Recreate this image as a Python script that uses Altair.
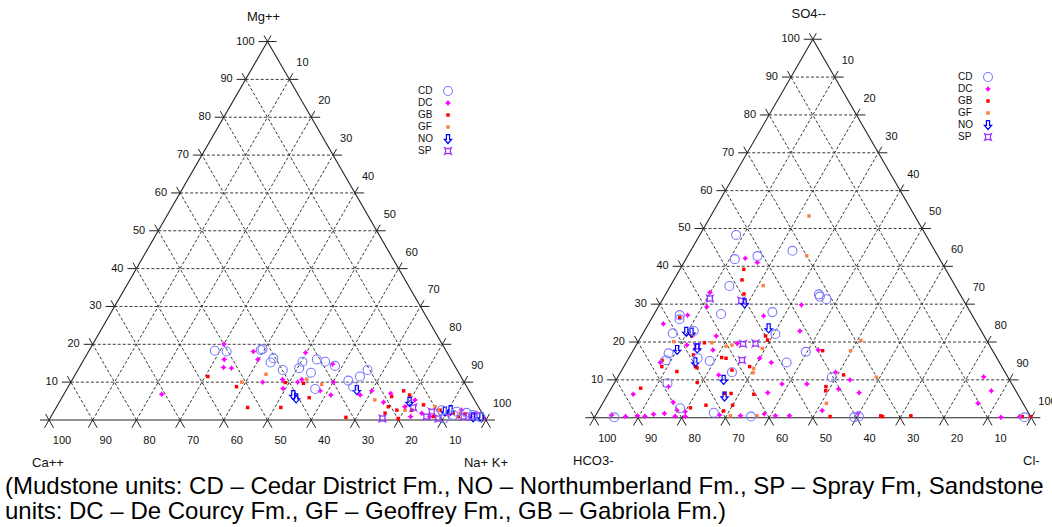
import math
import altair as alt
import pandas as pd

# ---------------- values (ternary percentages) ----------------
# Cation diagram: apex Mg++, right corner Na+ K+, left corner Ca++ (= 100 - Mg - NaK)
CAT_CD_MG = [18.3, 18.1, 18.5, 18.7, 16.3, 15.2, 13.2, 15.4, 13.7, 12.5, 16.0, 15.4, 14.3, 8.2, 10.4, 11.5, 13.2, 8.8, 2.6, 2.2, 1.9, 1.3, 0.7, 0.4, 1.3]
CAT_CD_NAK = [28.8, 31.6, 39.2, 39.5, 43.2, 43.1, 46.9, 50.3, 50.4, 53.7, 53.3, 55.5, 58.3, 56.8, 63.3, 65.4, 66.3, 65.2, 88.6, 92.2, 94.6, 96.4, 98.4, 90.2, 91.9]

CAT_DC_MG = [20.1, 16.0, 13.9, 13.7, 6.8, 18.1, 16.0, 10.0, 10.7, 10.0, 10.7, 17.8, 7.7, 6.6, 14.8, 10.0, 6.6, 7.7, 4.7, 7.0, 3.5, 0.9, 5.3, 1.8, 0.9, 1.3, 2.6, 0.9, 1.8, 8.3]
CAT_DC_NAK = [30.0, 32.1, 33.0, 34.9, 22.4, 37.7, 39.8, 43.9, 48.1, 51.9, 52.5, 49.8, 58.2, 61.2, 57.5, 60.1, 67.9, 70.0, 74.2, 74.7, 79.7, 82.3, 81.1, 84.4, 86.7, 90.8, 93.1, 95.9, 97.0, 49.4]

CAT_GB_MG = [11.5, 8.8, 3.3, 3.3, 9.9, 9.7, 5.9, 0.7, 1.8, 6.2, 3.5, 2.6, 0.4, 7.7, 6.6, 2.6, 4.0, 0.9, 1.8, 0.9, 1.6, 0.4, 2.6]
CAT_GB_NAK = [30.6, 38.5, 43.8, 51.4, 49.1, 53.4, 56.6, 67.6, 76.0, 75.3, 75.9, 78.3, 79.7, 77.3, 79.2, 81.7, 83.7, 87.5, 91.6, 93.2, 94.4, 99.4, 88.2]

CAT_GF_MG = [10.0, 12.1, 10.8, 9.4, 5.3, 2.6, 3.5, 1.8, 2.5]
CAT_GF_NAK = [39.1, 43.6, 53.6, 57.7, 71.9, 80.2, 86.6, 93.2, 87.8]

CAT_NO_MG = [6.6, 5.7, 7.9, 4.8, 2.2, 2.6, 0.7, 0.7]
CAT_NO_NAK = [52.6, 53.7, 66.5, 80.1, 89.5, 90.6, 96.7, 98.6]

CAT_SP_MG = [0.4, 3.3, 2.2, 0.9, 0.4, 0.9, 0.9]
CAT_SP_NAK = [76.1, 81.7, 86.5, 85.9, 88.9, 96.3, 94.4]

# Anion diagram: apex SO4--, right corner Cl-, left corner HCO3- (= 100 - SO4 - Cl)
AN_CD_SO4 = [48.3, 41.9, 42.7, 44.1, 34.8, 32.6, 32.0, 31.3, 27.1, 26.0, 27.4, 27.9, 22.3, 22.9, 22.1, 17.4, 14.6, 17.0, 15.2, 15.7, 15.0, 12.0, 9.1, 10.7, 2.5, 1.3, 0.1, 0.3, 0.1, 0.3, 0.1]
AN_CD_CL = [8.3, 11.2, 16.0, 23.3, 13.5, 35.1, 35.6, 37.5, 6.0, 6.5, 15.3, 26.8, 6.8, 11.3, 30.4, 39.7, 36.7, 8.5, 8.8, 15.8, 18.9, 25.5, 12.2, 49.0, 18.4, 26.7, 4.5, 35.7, 59.4, 60.4, 98.4]

AN_DC_SO4 = [42.1, 41.0, 33.1, 29.3, 27.1, 24.8, 29.8, 26.9, 22.9, 21.6, 19.2, 17.9, 19.6, 15.7, 14.6, 17.9, 14.6, 11.3, 8.2, 6.2, 4.1, 6.6, 8.9, 8.9, 12.0, 7.6, 10.0, 6.6, 1.9, 10.8, 7.1, 3.8, 0.1, 0.3, 0.7, 0.3, 0.5, 0.4, 0.9, 1.1, 0.4, 0.3, 0.7, 0.5, 1.0, 0.5, 0.5, 1.1, 2.0, 1.6]
AN_DC_CL = [13.5, 16.8, 9.9, 11.1, 7.8, 3.4, 32.5, 25.3, 35.6, 17.1, 11.6, 18.2, 22.9, 30.0, 33.2, 42.3, 7.8, 22.8, 12.9, 5.8, 16.0, 36.4, 38.5, 44.2, 49.2, 52.1, 53.5, 57.3, 51.2, 83.7, 87.3, 85.9, 93.0, 97.2, 3.6, 7.0, 9.6, 11.4, 13.1, 15.5, 18.3, 20.7, 28.3, 33.2, 38.4, 41.2, 44.4, 59.7, 17.9, 20.0]

AN_GB_SO4 = [39.2, 36.4, 32.7, 26.5, 21.6, 19.8, 21.6, 20.5, 16.6, 13.5, 13.2, 12.2, 15.2, 13.5, 15.9, 15.7, 12.6, 13.5, 9.3, 6.4, 6.4, 6.2, 3.3, 3.3, 2.6, 7.8, 17.7, 8.2, 7.1, 11.3, 0.3, 0.5, 0.3, 0.5, 0.3, 0.3, 1.8]
AN_GB_CL = [14.6, 15.6, 17.9, 6.3, 11.5, 15.3, 28.4, 29.4, 14.4, 16.4, 16.9, 12.8, 7.9, 8.7, 21.2, 22.3, 25.2, 28.8, 18.9, 26.6, 28.1, 33.4, 23.9, 30.0, 20.7, 6.7, 43.4, 48.9, 49.4, 51.4, 53.8, 65.3, 65.8, 72.2, 97.8, 99.7, 28.7]

AN_GF_SO4 = [53.3, 42.8, 34.9, 20.1, 19.8, 18.9, 19.2, 18.3, 13.0, 11.9, 21.9, 20.4, 17.7, 10.7, 3.8, 0.5, 0.5]
AN_GF_CL = [22.5, 27.2, 21.2, 8.1, 17.0, 20.7, 21.9, 29.3, 30.0, 30.4, 11.7, 50.8, 49.8, 59.2, 51.2, 30.9, 37.0]

AN_NO_SO4 = [30.2, 22.7, 22.5, 17.9, 18.3, 14.6, 23.6, 10.0, 5.6]
AN_NO_CL = [19.3, 9.7, 11.0, 10.0, 14.4, 15.8, 28.1, 24.6, 27.0]

AN_SP_SO4 = [31.5, 30.9, 18.8, 19.5, 19.6, 15.2]
AN_SP_CL = [10.7, 18.2, 14.1, 24.3, 27.1, 26.2]

TICKS = [0, 10, 20, 30, 40, 50, 60, 70, 80, 90, 100]
SERIES = ["CD", "DC", "GB", "GF", "NO", "SP"]
CAT_TITLES = ["Mg++", "Ca++", "Na+ K+"]
AN_TITLES = ["SO4--", "HCO3-", "Cl-"]
CAPTION = [
    "(Mudstone units: CD \u2013 Cedar District Fm., NO \u2013 Northumberland Fm., SP \u2013 Spray Fm, Sandstone",
    "units: DC \u2013 De Courcy Fm., GF \u2013 Geoffrey Fm., GB \u2013 Gabriola Fm.)",
]

CAT = {
    "CD": (CAT_CD_MG, CAT_CD_NAK), "DC": (CAT_DC_MG, CAT_DC_NAK), "GB": (CAT_GB_MG, CAT_GB_NAK),
    "GF": (CAT_GF_MG, CAT_GF_NAK), "NO": (CAT_NO_MG, CAT_NO_NAK), "SP": (CAT_SP_MG, CAT_SP_NAK),
}
AN = {
    "CD": (AN_CD_SO4, AN_CD_CL), "DC": (AN_DC_SO4, AN_DC_CL), "GB": (AN_GB_SO4, AN_GB_CL),
    "GF": (AN_GF_SO4, AN_GF_CL), "NO": (AN_NO_SO4, AN_NO_CL), "SP": (AN_SP_SO4, AN_SP_CL),
}

# ---------------- layout ----------------
W, H = 1052, 527
K = 4.37            # pixels per percent
LEFT_PX, BASE_PX = 49.0, 420.0
S3 = math.sqrt(3) / 2
XS = alt.Scale(domain=[-LEFT_PX / K, (W - LEFT_PX) / K], nice=False, zero=False)
YS = alt.Scale(domain=[-(H - BASE_PX) / K, BASE_PX / K], nice=False, zero=False)
FONT = "Liberation Sans, Arial, Helvetica, sans-serif"


def ux(px):
    return (px - LEFT_PX) / K


def uy(py):
    return (BASE_PX - py) / K


PANELS = [
    dict(name="cat", ox=0.0, oy=0.0, data=CAT, titles=CAT_TITLES,
         leg=(418, 448, 91)),
    dict(name="an", ox=(594.3 - LEFT_PX) / K, oy=(BASE_PX - 417.7) / K, data=AN, titles=AN_TITLES,
         leg=(958, 988, 77)),
]

frame, grid, ticks = [], [], []
lab_l, lab_c, lab_r, titles = [], [], [], []
pts = {s: [] for s in SERIES}
leg_txt = []

Lh, Ls, Lb = 9 / K, 7 / K, 9 / K
for p in PANELS:
    ox, oy = p["ox"], p["oy"]
    top = (ox + 50, oy + 100 * S3)
    frame += [
        dict(x=ox, y=oy, x2=ox + 100, y2=oy),
        dict(x=ox, y=oy, x2=top[0], y2=top[1]),
        dict(x=ox + 100, y=oy, x2=top[0], y2=top[1]),
    ]
    for v in TICKS[1:-1]:
        grid.append(dict(x=ox + v / 2, y=oy + v * S3, x2=ox + 100 - v / 2, y2=oy + v * S3))
        grid.append(dict(x=ox + 100 - v, y=oy, x2=ox + (100 - v) / 2, y2=oy + (100 - v) * S3))
        grid.append(dict(x=ox + v, y=oy, x2=ox + v + (100 - v) / 2, y2=oy + (100 - v) * S3))
    for v in TICKS:
        # left side (apex component = v)
        lx, ly = ox + v / 2, oy + v * S3
        ticks.append(dict(x=lx, y=ly, x2=lx - Lh, y2=ly))
        ticks.append(dict(x=lx, y=ly, x2=lx - 0.5 * Ls, y2=ly + S3 * Ls))
        # bottom
        bx, by = ox + v, oy
        ticks.append(dict(x=bx, y=by, x2=bx - 0.5 * Lb, y2=by - S3 * Lb))
        ticks.append(dict(x=bx, y=by, x2=bx + 0.5 * Lb, y2=by - S3 * Lb))
        # right side (right component = v)
        rx, ry = ox + v + (100 - v) / 2, oy + (100 - v) * S3
        ticks.append(dict(x=rx, y=ry, x2=rx + Lh, y2=ry))
        ticks.append(dict(x=rx, y=ry, x2=rx + 0.5 * Ls, y2=ry + S3 * Ls))
        if v > 0:
            lab_l.append(dict(x=lx - 13 / K, y=ly, t=str(v)))
            lab_r.append(dict(x=rx + 7 / K, y=ry + 16 / K, t=str(v)))
        if v < 100:
            lab_c.append(dict(x=bx + 13 / K, y=by - 21 / K, t=str(100 - v)))
    # corner titles
    t_top, t_left, t_right = p["titles"]
    titles.append(dict(x=top[0] - 4 / K, y=top[1] + 25 / K, t=t_top))
    titles.append(dict(x=ox - 1 / K, y=oy - 43 / K, t=t_left))
    titles.append(dict(x=ox + 100 + 0 / K, y=oy - 43 / K, t=t_right))
    # data points
    for s in SERIES:
        a, b = p["data"][s]
        for av, bv in zip(a, b):
            pts[s].append(dict(x=ox + bv + av / 2, y=oy + av * S3))
    # legend
    tx, sx, y0 = p["leg"]
    for i, s in enumerate(SERIES):
        leg_txt.append(dict(x=ux(tx), y=uy(y0 + 12 * i), t=s))
        pts[s].append(dict(x=ux(sx), y=uy(y0 + 12 * i)))

cap = [dict(x=ux(5), y=uy(487 + 25 * i), t=t) for i, t in enumerate(CAPTION)]


def rules(rows, **kw):
    return alt.Chart(pd.DataFrame(rows)).mark_rule(**kw).encode(
        x=alt.X("x:Q", scale=XS, axis=None), y=alt.Y("y:Q", scale=YS, axis=None),
        x2="x2:Q", y2="y2:Q")


def texts(rows, **kw):
    return alt.Chart(pd.DataFrame(rows)).mark_text(font=FONT, baseline="middle", **kw).encode(
        x=alt.X("x:Q", scale=XS, axis=None), y=alt.Y("y:Q", scale=YS, axis=None), text="t:N")


STYLE = {
    "CD": dict(shape="circle", filled=False, color="#7b7bff", size=80, strokeWidth=1.1),
    "DC": dict(shape="M0,-1L0.4,-0.4L1,0L0.4,0.4L0,1L-0.4,0.4L-1,0L-0.4,-0.4Z", filled=True,
               color="#ff00ff", size=36),
    "GB": dict(shape="square", filled=True, color="#ff0000", size=12),
    "GF": dict(shape="square", filled=True, color="#ff8040", size=12),
    "NO": dict(shape="M-0.35,-1L0.35,-1L0.35,0.1L0.8,0.1L0,1L-0.8,0.1L-0.35,0.1Z", filled=False,
               color="#0000ff", size=80, strokeWidth=1.2),
    "SP": dict(shape="M-1,-1Q0,-0.45 1,-1Q0.45,0 1,1Q0,0.45 -1,1Q-0.45,0 -1,-1Z", filled=False,
               color="#9933ff", size=40, strokeWidth=1.2),
}

layers = [
    rules(grid, color="#3a3a3a", strokeWidth=1, strokeDash=[3, 2]),
    rules(frame, color="#222222", strokeWidth=1.1),
    rules(ticks, color="#222222", strokeWidth=1),
]
for s in ["GB", "GF", "DC", "SP", "NO", "CD"]:
    layers.append(
        alt.Chart(pd.DataFrame(pts[s])).mark_point(opacity=1, **STYLE[s]).encode(
            x=alt.X("x:Q", scale=XS, axis=None), y=alt.Y("y:Q", scale=YS, axis=None))
    )
layers += [
    texts(lab_l, align="right", fontSize=11, color="#111"),
    texts(lab_r, align="left", fontSize=11, color="#111"),
    texts(lab_c, align="center", fontSize=11, color="#111"),
    texts(titles, align="center", fontSize=13, color="#111"),
    texts(leg_txt, align="left", fontSize=10, color="#111"),
    texts(cap, align="left", fontSize=24, color="#000"),
]

chart = alt.layer(*layers).properties(
    width=W, height=H, autosize=alt.AutoSizeParams(type="none"), padding=0,
    background="white",
).configure_view(stroke=None)

chart.save("out.html", embed_options={"renderer": "svg", "actions": False})
